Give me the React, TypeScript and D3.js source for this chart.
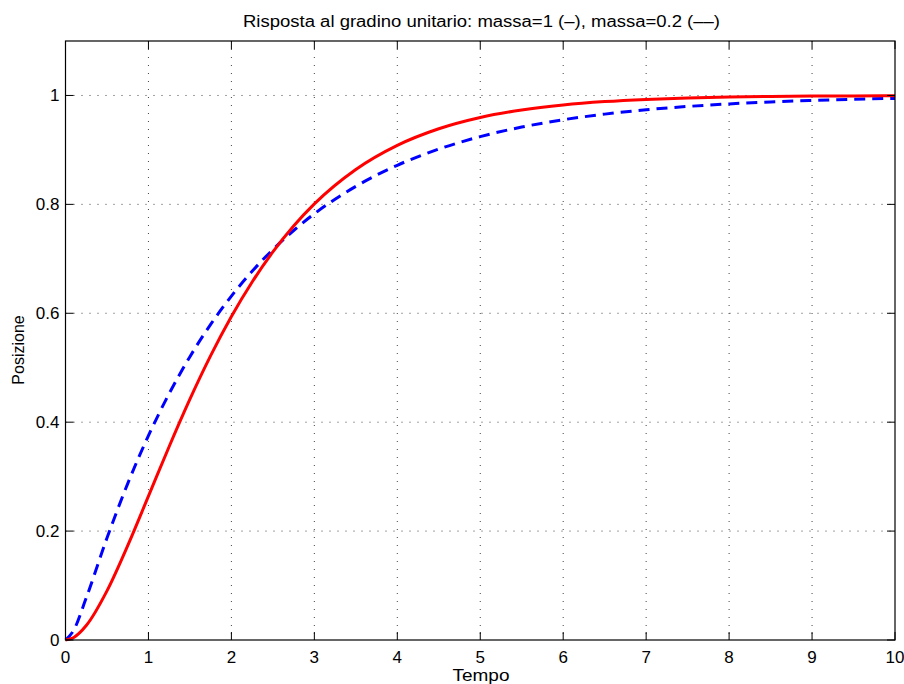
import React from "react";
import * as d3 from "d3";

const times = [0, 0.1, 0.25, 0.5, 0.75, 1, 1.25, 1.5, 1.75, 2, 2.25, 2.5, 2.75, 3, 3.5, 4, 4.5, 5, 5.5, 6, 6.5, 7, 7.5, 8, 8.5, 9, 9.5, 10];
const massa1 = [0, 0.0047, 0.0265, 0.0902, 0.1733, 0.2642, 0.3554, 0.4422, 0.5221, 0.594, 0.6574, 0.7127, 0.7603, 0.8009, 0.8641, 0.9084, 0.9389, 0.9596, 0.9734, 0.9826, 0.9887, 0.9927, 0.9953, 0.997, 0.9981, 0.9988, 0.9992, 0.9995];
const massa02 = [0, 0.0183, 0.0774, 0.1872, 0.2872, 0.3753, 0.4526, 0.5203, 0.5796, 0.6316, 0.6771, 0.717, 0.752, 0.7827, 0.8331, 0.8718, 0.9015, 0.9244, 0.9419, 0.9554, 0.9657, 0.9737, 0.9798, 0.9845, 0.9881, 0.9908, 0.993, 0.9946];
const xTicks = [0, 1, 2, 3, 4, 5, 6, 7, 8, 9, 10];
const yTicks = [0, 0.2, 0.4, 0.6, 0.8, 1];
const title = "Risposta al gradino unitario: massa=1 (–), massa=0.2 (––)";

const L = 65.5, R = 895, T = 41, B = 640;
const font = "'Liberation Sans', Arial, Helvetica, sans-serif";

export default function App() {
  const x = d3.scaleLinear().domain([0, 10]).range([L, R]);
  const y = d3.scaleLinear().domain([0, 1.1]).range([B, T]);
  const line = d3.line<number>().x((_, i) => x(times[i])).y((d) => y(d)).curve(d3.curveMonotoneX);
  const tk = 8;
  return (
    <svg width={904} height={684} style={{ position: "absolute", left: 0, top: 0, background: "#fff" }}>
      <rect x={0} y={0} width={904} height={684} fill="#fff" />
      {xTicks.slice(1, -1).map((t) => (
        <line key={"gx" + t} x1={x(t)} x2={x(t)} y1={T} y2={B} stroke="#444" strokeWidth={1} strokeDasharray="1,7" />
      ))}
      {yTicks.slice(1).map((t) => (
        <line key={"gy" + t} x1={L} x2={R} y1={y(t)} y2={y(t)} stroke="#444" strokeWidth={1} strokeDasharray="1,7" />
      ))}
      <path d={line(massa02) || ""} fill="none" stroke="#0000ff" strokeWidth={3} strokeDasharray="11,7" />
      <path d={line(massa1) || ""} fill="none" stroke="#ff0000" strokeWidth={3} />
      <rect x={L} y={T} width={R - L} height={B - T} fill="none" stroke="#000" strokeWidth={1.2} />
      {xTicks.map((t) => (
        <g key={"tx" + t}>
          <line x1={x(t)} x2={x(t)} y1={B} y2={B - tk} stroke="#000" />
          <line x1={x(t)} x2={x(t)} y1={T} y2={T + tk} stroke="#000" />
          <text x={x(t)} y={663} textAnchor="middle" fontFamily={font} fontSize={17}>{t}</text>
        </g>
      ))}
      {yTicks.map((t) => (
        <g key={"ty" + t}>
          <line x1={L} x2={L + tk} y1={y(t)} y2={y(t)} stroke="#000" />
          <line x1={R} x2={R - tk} y1={y(t)} y2={y(t)} stroke="#000" />
          <text x={L - 6} y={y(t) + 6} textAnchor="end" fontFamily={font} fontSize={17}>{t}</text>
        </g>
      ))}
      <text x={481} y={681} textAnchor="middle" fontFamily={font} fontSize={16} textLength={57} lengthAdjust="spacingAndGlyphs">Tempo</text>
      <text transform={`translate(24,350) rotate(-90)`} textAnchor="middle" fontFamily={font} fontSize={16}>Posizione</text>
      <text x={481.5} y={27} textAnchor="middle" fontFamily={font} fontSize={16} textLength={477} lengthAdjust="spacingAndGlyphs">{title}</text>
    </svg>
  );
}
